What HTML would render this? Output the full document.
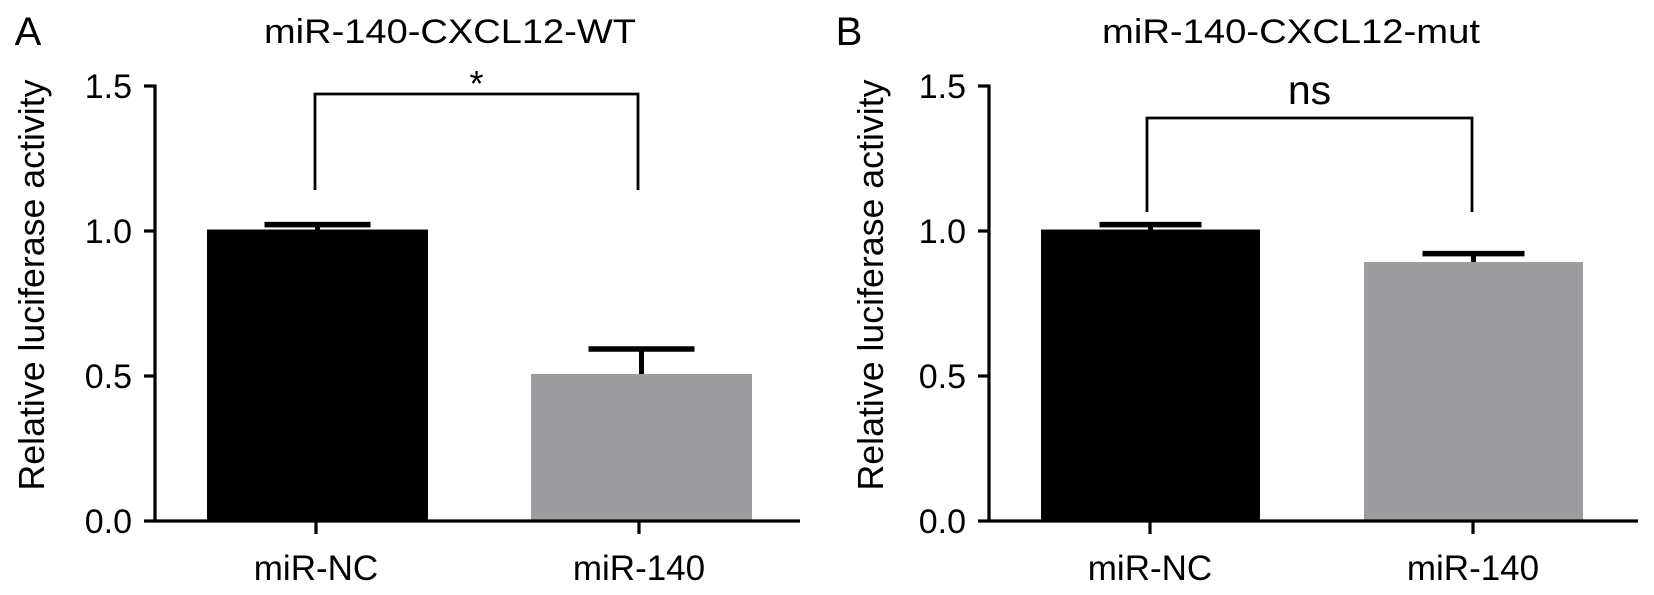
<!DOCTYPE html>
<html><head><meta charset="utf-8"><style>
html,body{margin:0;padding:0;background:#fff;}
svg{display:block;font-family:"Liberation Sans",Arial,sans-serif;}
</style></head><body>
<svg id="chart" width="1654" height="595" viewBox="0 0 1654 595"></svg>
<script>
const categories = ["miR-NC", "miR-140"];
const wtValues = [1.005, 0.507];
const wtErrors = [0.017, 0.086];
const mutValues = [1.005, 0.893];
const mutErrors = [0.017, 0.029];
const yTicks = [0.0, 0.5, 1.0, 1.5];
const yTickLabels = ["0.0", "0.5", "1.0", "1.5"];
const panels = [
  {letter:"A", title:"miR-140-CXCL12-WT", titleW:372, values:wtValues, errors:wtErrors, sig:"*",
   axisX:155, axisRight:800, barX:[207,531], barW:221, tickX:[316,639], letterX:28, titleX:450, ylabX:44,
   bracketY:94, bracketBottom:190, bracketX:[315,638], sigY:96, sigSize:36, capW:106},
  {letter:"B", title:"miR-140-CXCL12-mut", titleW:378, values:mutValues, errors:mutErrors, sig:"ns",
   axisX:989, axisRight:1638, barX:[1041,1364], barW:219, tickX:[1150,1473], letterX:849, titleX:1291, ylabX:883,
   bracketY:118, bracketBottom:212, bracketX:[1147,1472], sigY:104, sigSize:41, capW:102}
];
const base = 521, pxPerUnit = 290;
function y(v){ return base - v*pxPerUnit; }
const svg = document.getElementById('chart');
const NS = "http://www.w3.org/2000/svg";
function mk(tag, attrs, parent){
  const e = document.createElementNS(NS, tag);
  for (const k in attrs) e.setAttribute(k, attrs[k]);
  (parent||svg).appendChild(e);
  return e;
}
const colors = ["#000000", "#9d9ca1"];
panels.forEach((p, pi) => {
  const g = mk('g', {});
  
  
  let t = mk('text', {x:p.letterX, y:45, 'font-size':40, 'text-anchor':'middle'}, g);
  t.textContent = p.letter;
  
  
  t = mk('text', {x:p.titleX, y:43, 'font-size':34, 'text-anchor':'middle', textLength:p.titleW, lengthAdjust:'spacingAndGlyphs'}, g);
  t.textContent = p.title;
  
  
  t = mk('text', {x:0, y:0, 'font-size':36, 'text-anchor':'middle', textLength:411, lengthAdjust:'spacingAndGlyphs', transform:`translate(${p.ylabX},285) rotate(-90)`}, g);
  t.textContent = "Relative luciferase activity";
  
  
  p.values.forEach((v, i) => {
    const cx = p.barX[i] + p.barW/2;
    const err = p.errors[i];
    const st = mk('line', {x1:cx, x2:cx, y1:y(v), y2:y(v+err), stroke:'#000', 'stroke-width':5}, g);
    
    
    const cap = mk('line', {x1:cx-p.capW/2, x2:cx+p.capW/2, y1:y(v+err), y2:y(v+err), stroke:'#000', 'stroke-width':5.5}, g);
    
    
    const r = mk('rect', {x:p.barX[i], y:y(v), width:p.barW, height:base-y(v), fill:colors[i]}, g);
    
    
  });
  let a = mk('line', {x1:p.axisX, x2:p.axisX, y1:y(1.5)-1.5, y2:base+1.5, stroke:'#000', 'stroke-width':3.2}, g);
  
  
  a = mk('line', {x1:p.axisX-1.5, x2:p.axisRight, y1:base, y2:base, stroke:'#000', 'stroke-width':3.2}, g);
  
  
  yTicks.forEach((tv, i) => {
    const tk = mk('line', {x1:p.axisX-11, x2:p.axisX, y1:y(tv), y2:y(tv), stroke:'#000', 'stroke-width':3.2}, g);
    
    
    const tl = mk('text', {x:p.axisX-23, y:y(tv)+12, 'font-size':34, 'text-anchor':'end'}, g);
    tl.textContent = yTickLabels[i];
    
    
  });
  categories.forEach((c, i) => {
    const tk = mk('line', {x1:p.tickX[i], x2:p.tickX[i], y1:base, y2:base+13, stroke:'#000', 'stroke-width':3.2}, g);
    
    
    const tl = mk('text', {x:p.tickX[i], y:580, 'font-size':35, 'text-anchor':'middle'}, g);
    tl.textContent = c;
    
    
  });
  const br = mk('polyline', {points:`${p.bracketX[0]},${p.bracketBottom} ${p.bracketX[0]},${p.bracketY} ${p.bracketX[1]},${p.bracketY} ${p.bracketX[1]},${p.bracketBottom}`, fill:'none', stroke:'#000', 'stroke-width':2.8}, g);
  
  
  const sg = mk('text', {x:(p.bracketX[0]+p.bracketX[1])/2, y:p.sigY, 'font-size':p.sigSize, 'text-anchor':'middle'}, g);
  sg.textContent = p.sig;
  
  
});
</script>
</body></html>
